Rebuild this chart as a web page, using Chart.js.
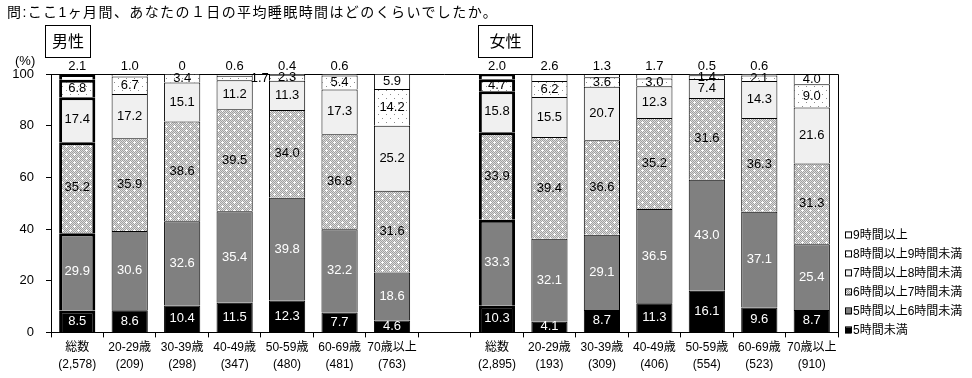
<!DOCTYPE html>
<html lang="ja">
<head>
<meta charset="utf-8">
<title>平均睡眠時間</title>
<script src="https://cdn.jsdelivr.net/npm/chart.js@4.4.1/dist/chart.umd.min.js"></script>
<style>
  body { margin: 0; background: #fff; font-family: 'Liberation Sans', 'Noto Sans CJK JP', sans-serif; }
  #wrap { position: relative; width: 972px; height: 378px; }
  #title { position: absolute; left: 7px; top: 1px; font-size: 14px; letter-spacing: 1.4px; white-space: nowrap; }
  .sex { position: absolute; top: 25px; height: 33px; border: 1px solid #000; box-sizing: border-box;
         font-size: 16px; line-height: 31px; text-align: center; }
  #unit { position: absolute; left: 15px; top: 53px; font-size: 13px; }
  canvas { position: absolute; left: 0; top: 0; }
</style>
</head>
<body>
<div id="wrap">
  <canvas id="sleepChart" width="972" height="378"></canvas>
  <div id="title">問:ここ1ヶ月間、あなたの１日の平均睡眠時間はどのくらいでしたか。</div>
  <div class="sex" style="left:45px; width:46px;">男性</div>
  <div class="sex" style="left:478px; width:55px;">女性</div>
  <div id="unit">(%)</div>
</div>
<script>
// categories: 男性 7 groups, an empty slot, then 女性 7 groups
const categories = [
  ['総数', '(2,578)'], ['20-29歳', '(209)'], ['30-39歳', '(298)'], ['40-49歳', '(347)'],
  ['50-59歳', '(480)'], ['60-69歳', '(481)'], ['70歳以上', '(763)'],
  '',
  ['総数', '(2,895)'], ['20-29歳', '(193)'], ['30-39歳', '(309)'], ['40-49歳', '(406)'],
  ['50-59歳', '(554)'], ['60-69歳', '(523)'], ['70歳以上', '(910)']
];
const seriesNames = ['5時間未満', '5時間以上6時間未満', '6時間以上7時間未満', '7時間以上8時間未満', '8時間以上9時間未満', '9時間以上'];

const under5 = [8.5, 8.6, 10.4, 11.5, 12.3, 7.7, 4.6, null, 10.3, 4.1, 8.7, 11.3, 16.1, 9.6, 8.7];
const h5to6  = [29.9, 30.6, 32.6, 35.4, 39.8, 32.2, 18.6, null, 33.3, 32.1, 29.1, 36.5, 43.0, 37.1, 25.4];
const h6to7  = [35.2, 35.9, 38.6, 39.5, 34.0, 36.8, 31.6, null, 33.9, 39.4, 36.6, 35.2, 31.6, 36.3, 31.3];
const h7to8  = [17.4, 17.2, 15.1, 11.2, 11.3, 17.3, 25.2, null, 15.8, 15.5, 20.7, 12.3, 7.4, 14.3, 21.6];
const h8to9  = [6.8, 6.7, 3.4, 1.7, 2.3, 5.4, 14.2, null, 4.7, 6.2, 3.6, 3.0, 1.4, 2.1, 9.0];
const over9  = [2.1, 1.0, 0, 0.6, 0.4, 0.6, 5.9, null, 2.0, 2.6, 1.3, 1.7, 0.5, 0.6, 4.0];

const yTicks = [0, 20, 40, 60, 80, 100];

Chart.defaults.font.family = "'Liberation Sans', 'Noto Sans CJK JP', sans-serif";

// small fill patterns like the original hatching
function makePattern(bg, checker, dot, plus) {
  const c = document.createElement('canvas');
  c.width = 8; c.height = 8;
  const g = c.getContext('2d');
  g.fillStyle = bg;
  g.fillRect(0, 0, 8, 8);
  if (checker) {
    g.fillStyle = checker;
    for (let y = 0; y < 8; y++)
      for (let x = y % 2; x < 8; x += 2) g.fillRect(x, y, 1, 1);
  }
  g.fillStyle = dot;
  [[2, 2], [6, 6]].forEach(([x, y]) => {
    g.fillRect(x, y, 1, 1);
    if (plus) { g.fillRect(x - 1, y, 3, 1); g.fillRect(x, y - 1, 1, 3); }
  });
  return g.createPattern(c, 'repeat');
}

const fills = [
  '#000000',
  '#808080',
  makePattern('#dcdcdc', '#a0a0a0', '#ffffff', true),
  '#f0f0f0',
  makePattern('#ffffff', null, '#8c8c8c', false),
  '#ffffff'
];

// 総数 bars get a heavy outline
const isTotal = i => i === 0 || i === 8;

const frame = {
  id: 'frame',
  beforeDatasetsDraw(chart) {
    const { ctx, chartArea: a } = chart;
    ctx.save();
    ctx.strokeStyle = '#000';
    ctx.lineWidth = 1;
    ctx.beginPath();
    ctx.moveTo(a.left, Math.round(a.top) + 0.5);
    ctx.lineTo(Math.round(a.right) + 0.5, Math.round(a.top) + 0.5);
    ctx.lineTo(Math.round(a.right) + 0.5, a.bottom);
    ctx.stroke();
    ctx.restore();
  }
};

const valueLabels = {
  id: 'valueLabels',
  afterDatasetsDraw(chart) {
    const ctx = chart.ctx;
    const top = chart.scales.y.getPixelForValue(100);
    ctx.save();
    ctx.font = "13px 'Liberation Sans', Arial, sans-serif";
    ctx.textAlign = 'center';
    ctx.textBaseline = 'middle';
    chart.data.datasets.forEach((ds, di) => {
      chart.getDatasetMeta(di).data.forEach((bar, i) => {
        const v = ds.data[i];
        if (v == null) return;
        let px = bar.x;
        let py = (bar.y + bar.base) / 2;
        if (di === 5 && v < 3.5) py = top - 8;            // small 9時間以上 sits above the bar
        if (di === 4 && i === 3) px = bar.x + bar.width / 2 + 7; // 男性40-49歳 pushed outside
        ctx.fillStyle = di < 2 ? '#fff' : '#000';
        ctx.fillText(v === 0 ? '0' : v.toFixed(1), px, py);
      });
    });
    ctx.restore();
  }
};

// legend in the bottom-right corner, 9時間以上 first
const sideLegend = {
  id: 'sideLegend',
  afterDraw(chart) {
    const { ctx, chartArea: a } = chart;
    const sets = chart.data.datasets;
    ctx.save();
    ctx.font = "12px 'Liberation Sans', 'Noto Sans CJK JP', sans-serif";
    ctx.textAlign = 'left';
    ctx.textBaseline = 'middle';
    sets.forEach((ds, k) => {
      const cy = a.bottom - 2 - k * 19;
      const bx = a.right + 7;
      ctx.fillStyle = ds.backgroundColor;
      ctx.fillRect(bx, cy - 3, 6, 6);
      ctx.strokeStyle = '#000';
      ctx.lineWidth = 1;
      ctx.strokeRect(bx + 0.5, cy - 3.5, 6, 6);
      ctx.fillStyle = '#000';
      ctx.fillText(ds.label, bx + 8, cy);
    });
    ctx.restore();
  }
};

const seriesData = [under5, h5to6, h6to7, h7to8, h8to9, over9];

new Chart(document.getElementById('sleepChart'), {
  type: 'bar',
  data: {
    labels: categories,
    datasets: seriesData.map((d, k) => ({
      label: seriesNames[k],
      data: d,
      backgroundColor: fills[k],
      borderColor: '#000',
      borderWidth: ctx => isTotal(ctx.dataIndex) ? 3 : 1,
      barPercentage: 0.69,
      categoryPercentage: 1
    }))
  },
  options: {
    responsive: false,
    animation: false,
    layout: { padding: { top: 74, right: 134, bottom: 3, left: 0 } },
    scales: {
      x: {
        stacked: true,
        grid: { offset: true, drawOnChartArea: false, tickLength: 5, color: '#000' },
        border: { color: '#000' },
        ticks: { color: '#000', font: { size: 12, lineHeight: 1.4 }, maxRotation: 0, autoSkip: false, padding: 2 }
      },
      y: {
        stacked: true,
        min: 0,
        max: 100,
        afterBuildTicks: s => { s.ticks = yTicks.map(v => ({ value: v })); },
        afterFit: s => { s.width = 51; },
        ticks: { color: '#000', font: { size: 13 }, padding: 12 },
        grid: { drawOnChartArea: false, tickLength: 5, color: '#000' },
        border: { color: '#000' }
      }
    },
    plugins: {
      tooltip: { enabled: false },
      legend: { display: false }
    }
  },
  plugins: [frame, valueLabels, sideLegend]
});
</script>
</body>
</html>
